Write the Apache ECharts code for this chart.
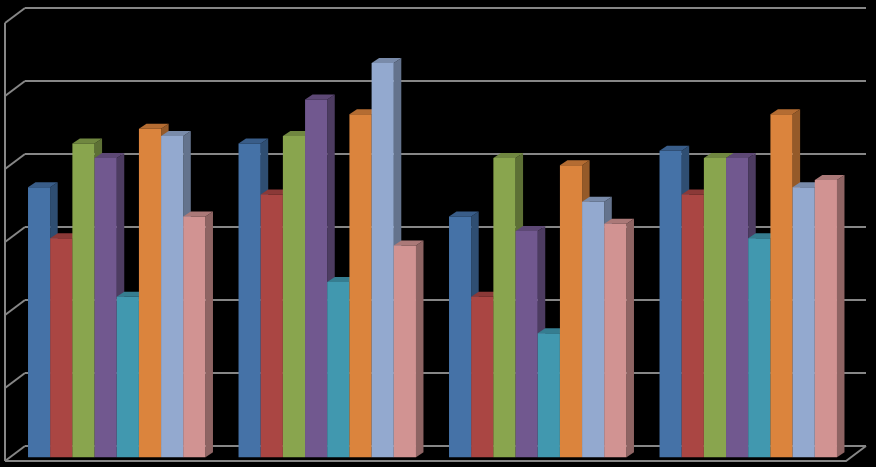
<!DOCTYPE html>
<html>
<head>
<meta charset="utf-8">
<script src="https://cdn.jsdelivr.net/npm/echarts@6/dist/echarts.min.js"></script>
<style>
    html, body { margin: 0; padding: 0; background: #000; }
    #chart { width: 876px; height: 467px; }
</style>
</head>
<body>
<div id="chart"></div>
<script>
    // categories and series (no labels shown in the picture)
    var categories = ['Group 1', 'Group 2', 'Group 3', 'Group 4'];
    var seriesNames = ['Series 1', 'Series 2', 'Series 3', 'Series 4', 'Series 5', 'Series 6', 'Series 7', 'Series 8'];
    var s1 = [37, 43, 33, 42];
    var s2 = [30, 36, 22, 36];
    var s3 = [43, 44, 41, 41];
    var s4 = [41, 49, 31, 41];
    var s5 = [22, 24, 17, 30];
    var s6 = [45, 47, 40, 47];
    var s7 = [44, 54, 35, 37];
    var s8 = [33, 29, 32, 38];
    var yTicks = [0, 10, 20, 30, 40, 50, 60];

    var seriesValues = [s1, s2, s3, s4, s5, s6, s7, s8];
    var colors = ['#4572A7', '#AA4643', '#89A54E', '#71588F', '#4198AF', '#DB843D', '#93A9CF', '#D19392'];
    var gridColor = '#868686';
    var depthX = 7.5, depthY = -5;   // bar depth in the oblique view
    var wallX = -20, wallY = 15;     // left wall / floor depth

    function shade(hex, f) {
        var n = parseInt(hex.slice(1), 16);
        var r = Math.round(((n >> 16) & 255) * f);
        var g = Math.round(((n >> 8) & 255) * f);
        var b = Math.round((n & 255) * f);
        return 'rgb(' + r + ',' + g + ',' + b + ')';
    }

    // back wall gridlines + left wall + floor front edge
    function renderWalls(params, api) {
        var p = api.coord([0, api.value(1)]);
        var pr = api.coord([1, api.value(1)]);
        var style = { stroke: gridColor, lineWidth: 2, fill: null };
        var children = [
            { type: 'line', shape: { x1: p[0], y1: p[1], x2: pr[0], y2: pr[1] }, style: style },
            { type: 'line', shape: { x1: p[0] + wallX, y1: p[1] + wallY, x2: p[0], y2: p[1] }, style: style }
        ];
        if (params.dataIndex === 0) {
            var top = api.coord([0, yTicks[yTicks.length - 1]]);
            children.push({ type: 'line', shape: { x1: p[0] + wallX, y1: top[1] + wallY, x2: p[0] + wallX, y2: p[1] + wallY }, style: style });
            children.push({ type: 'polyline', shape: { points: [[p[0] + wallX, p[1] + wallY], [pr[0] + wallX, pr[1] + wallY], [pr[0], pr[1]]] }, style: style });
        }
        return { type: 'group', children: children };
    }

    function makeBarRenderer(s) {
        return function (params, api) {
            var cat = api.value(0), val = api.value(1);
            var base = api.coord([cat, 0]);
            var top = api.coord([cat, val]);
            var band = api.size([1, 0])[0];
            var barW = band * 0.843 / 8;
            var x0 = base[0] - 4 * barW + s * barW;
            var x1 = x0 + barW;
            var c = colors[s];
            return {
                type: 'group',
                children: [
                    { type: 'polygon', shape: { points: [[x1, top[1]], [x1 + depthX, top[1] + depthY], [x1 + depthX, base[1] + depthY], [x1, base[1]]] },
                      style: { fill: shade(c, 0.68) } },
                    { type: 'polygon', shape: { points: [[x0, top[1]], [x1, top[1]], [x1 + depthX, top[1] + depthY], [x0 + depthX, top[1] + depthY]] },
                      style: { fill: shade(c, 0.82) } },
                    { type: 'rect', shape: { x: x0, y: top[1], width: barW, height: base[1] - top[1] },
                      style: { fill: c } }
                ]
            };
        };
    }

    var myEcharts = echarts.init(document.getElementById('chart'));

    var series = [{
        type: 'custom',
        xAxisIndex: 0,
        yAxisIndex: 0,
        renderItem: renderWalls,
        data: yTicks.map(function (v) { return [0, v]; }),
        silent: true,
        z: 1
    }];
    seriesValues.forEach(function (vals, s) {
        series.push({
            name: seriesNames[s],
            type: 'custom',
            xAxisIndex: 1,
            yAxisIndex: 1,
            renderItem: makeBarRenderer(s),
            data: vals.map(function (v, i) { return [i, v]; }),
            z: 2
        });
    });

    myEcharts.setOption({
        backgroundColor: '#000',
        animation: false,
        grid: [
            { left: 25, top: 8, width: 841, height: 438 },   // back wall
            { left: 11.5, top: 19.3, width: 842, height: 438 } // bar front plane
        ],
        xAxis: [
            { gridIndex: 0, type: 'value', min: 0, max: 1, show: false },
            { gridIndex: 1, type: 'category', data: categories, show: false }
        ],
        yAxis: [
            { gridIndex: 0, type: 'value', min: 0, max: 60, interval: 10, show: false },
            { gridIndex: 1, type: 'value', min: 0, max: 60, interval: 10, show: false }
        ],
        series: series
    });
</script>
</body>
</html>
